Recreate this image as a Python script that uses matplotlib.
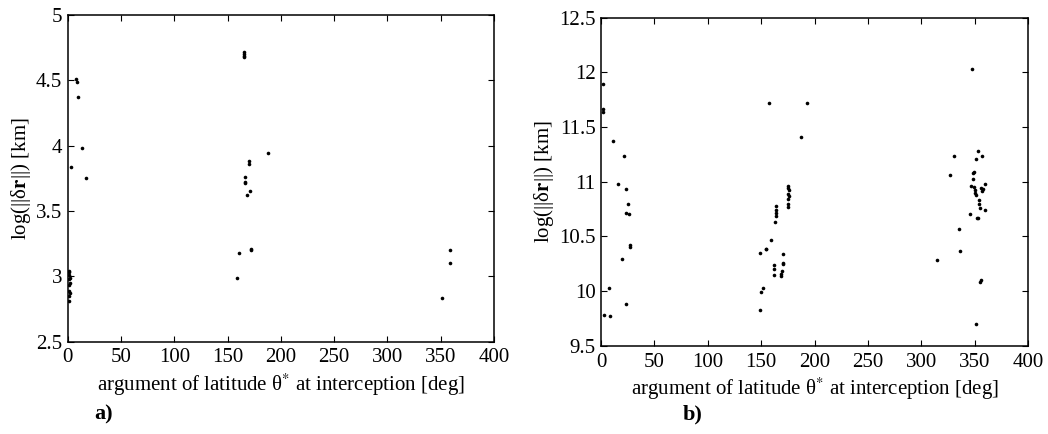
import matplotlib
matplotlib.use("Agg")
import matplotlib.pyplot as plt
from matplotlib.ticker import FuncFormatter

# ---- data: panel a) ----
a_theta = [1.0, 1.5, 1.2, 1.8, 1.3, 1.9, 1.4, 1.6, 1.9, 1.1, 0.8,
           8.1, 8.6, 9.7, 13.4, 3.1, 16.9,
           165.3, 165.6, 165.0, 165.4,
           170.3, 169.8, 166.2, 166.0, 166.6, 171.0, 167.8, 188.0,
           160.9, 172.1, 172.4, 159.0,
           359.0, 358.4, 351.2]
a_logdr = [3.04, 3.03, 3.01, 2.99, 2.98, 2.95, 2.93, 2.89, 2.87, 2.85, 2.81,
           4.51, 4.49, 4.375, 3.98, 3.84, 3.75,
           4.72, 4.69, 4.68, 4.70,
           3.88, 3.86, 3.76, 3.72, 3.71, 3.65, 3.62, 3.94,
           3.18, 3.20, 3.21, 2.99,
           3.20, 3.10, 2.83]

# ---- data: panel b) ----
b_theta = [2.2, 1.6, 2.0, 11.6, 21.6, 16.3, 23.1, 25.6, 23.4, 26.6,
           26.7, 27.3, 19.4, 7.8, 23.4, 3.1, 8.1,
           157.8, 174.7, 175.2, 175.8, 175.4, 176.0, 175.0, 175.4, 174.8,
           163.8, 163.8, 164.1, 163.6, 162.8, 158.8, 154.4, 155.0, 149.4,
           170.9, 170.9, 170.3, 162.5, 162.5, 161.6, 169.0, 169.4, 168.6,
           151.6, 150.3, 149.0, 193.4, 187.5,
           347.2, 352.8, 330.7, 357.2, 350.9, 327.2, 349.4, 348.8, 348.8,
           359.4, 346.9, 349.0, 356.3, 357.4, 356.8, 350.2, 350.5, 351.2,
           353.9, 354.2, 354.7, 359.7, 345.6, 352.0, 353.3, 335.3, 336.2,
           314.3, 355.6, 355.1, 351.6]
b_logdr = [11.89, 11.66, 11.64, 11.37, 11.23, 10.98, 10.93, 10.80, 10.71, 10.70,
           10.42, 10.40, 10.29, 10.03, 9.88, 9.78, 9.77,
           11.72, 10.96, 10.94, 10.92, 10.89, 10.87, 10.84, 10.80, 10.77,
           10.78, 10.74, 10.71, 10.69, 10.63, 10.47, 10.38, 10.38, 10.35,
           10.34, 10.26, 10.25, 10.24, 10.20, 10.15, 10.16, 10.18, 10.14,
           10.03, 9.99, 9.83, 11.72, 11.41,
           12.03, 11.28, 11.23, 11.23, 11.21, 11.06, 11.09, 11.08, 11.02,
           10.98, 10.96, 10.95, 10.94, 10.93, 10.91, 10.92, 10.90, 10.88,
           10.83, 10.80, 10.76, 10.74, 10.70, 10.67, 10.665, 10.57, 10.37,
           10.28, 10.10, 10.08, 9.70]

x_ticks = [0, 50, 100, 150, 200, 250, 300, 350, 400]
a_yticks = [2.5, 3, 3.5, 4, 4.5, 5]
b_yticks = [9.5, 10, 10.5, 11, 11.5, 12, 12.5]

plt.rcParams['font.family'] = ['Liberation Serif', 'DejaVu Serif']
plt.rcParams['mathtext.fontset'] = 'stix'

fig = plt.figure(figsize=(10.48, 4.34), dpi=100)
ax1 = fig.add_axes([0.0646, 0.2131, 0.4068, 0.7523])
ax2 = fig.add_axes([0.5735, 0.2035, 0.4074, 0.7559])

fmt = FuncFormatter(lambda v, p: ('%g' % v))
xlabel = 'argument of latitude θ$^{*}$ at interception [deg]'
ylabel = 'log(||δ$\\mathbf{r}$||) [km]'

for ax, xs, ys, yt in [(ax1, a_theta, a_logdr, a_yticks),
                       (ax2, b_theta, b_logdr, b_yticks)]:
    ax.plot(xs, ys, linestyle='none', marker='o', markersize=2.6,
            color='black', markeredgewidth=0)
    ax.set_xlim(0, 400)
    ax.set_ylim(yt[0], yt[-1])
    ax.set_xticks(x_ticks)
    ax.set_yticks(yt)
    ax.xaxis.set_major_formatter(fmt)
    ax.yaxis.set_major_formatter(fmt)
    ax.tick_params(direction='in', top=True, right=True, length=4,
                   width=0.8, labelsize=15)
    ax.tick_params(axis='x', pad=5)
    ax.tick_params(axis='y', pad=4)
    for s in ax.spines.values():
        s.set_linewidth(1.1)
    ax.set_xlabel(xlabel, fontsize=15, labelpad=3)
    ax.set_ylabel(ylabel, fontsize=15, labelpad=2)

fig.text(0.090, 0.045, 'a)', fontsize=16, fontweight='bold', ha='left', va='center')
fig.text(0.651, 0.045, 'b)', fontsize=16, fontweight='bold', ha='left', va='center')

fig.savefig('out.png', dpi=100)
